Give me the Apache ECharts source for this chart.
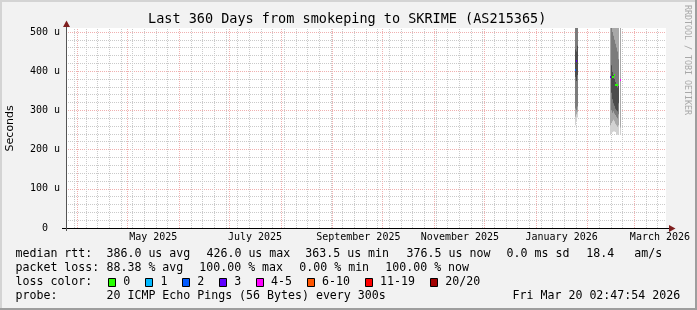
<!DOCTYPE html>
<html><head><meta charset="utf-8">
<script src="https://cdn.jsdelivr.net/npm/echarts@6/dist/echarts.min.js"></script>
<style>html,body{margin:0;padding:0;background:#f2f2f2}#c{width:697px;height:310px}</style>
</head><body><div id="c"></div><script>
// ---------------- data ----------------
const endTime = '2026-03-20T02:47:54Z';
const spanDays = 360;
const titleText = 'Last 360 Days from smokeping to SKRIME (AS215365)';
const yAxisName = 'Seconds';
const xLabels = ['May 2025', 'July 2025', 'September 2025', 'November 2025', 'January 2026', 'March 2026'];
const xLabelTimes = ['2025-05-16T12:00:00Z', '2025-07-16T12:00:00Z', '2025-09-16T12:00:00Z', '2025-11-16T12:00:00Z', '2026-01-16T12:00:00Z', '2026-03-16T12:00:00Z'];

// smoke (ping distribution per consolidated column), values in microseconds
const smokeTimes = ['2026-01-24T20:00:00Z', '2026-01-25T10:00:00Z', '2026-01-26T00:00:00Z',
  '2026-02-14T20:00:00Z', '2026-02-15T10:00:00Z', '2026-02-16T00:00:00Z', '2026-02-16T15:00:00Z',
  '2026-02-17T05:00:00Z', '2026-02-17T20:00:00Z', '2026-02-18T10:00:00Z', '2026-02-19T00:00:00Z',
  '2026-02-19T15:00:00Z', '2026-02-20T20:00:00Z'];
const smokeMin = [262, 270, 282, 240, 242, 244, 246, 246, 245, 240, 238, 240, 240];
const smokeP10 = [284, 290, 296, 262, 268, 272, 276, 272, 266, 262, 258, 262, 256];
const smokeP25 = [305, 300, 310, 380, 300, 294, 298, 292, 288, 284, 280, 290, 376];
const smokeP40 = [385, 375, 390, 380, 345, 328, 318, 312, 304, 300, 298, 318, 376];
const smokeP60 = [455, 450, 465, 380, 415, 398, 390, 380, 372, 364, 358, 362, 376];
const smokeP75 = [600, 600, 620, 380, 520, 500, 490, 480, 470, 460, 450, 430, 376];
const smokeP90 = [700, 700, 720, 600, 640, 620, 600, 590, 580, 570, 560, 540, 600];
const smokeMax = [900, 900, 900, 900, 900, 900, 900, 900, 900, 900, 900, 900, 900];

// median rtt points (microseconds) and loss class index
const medianTimes = ['2026-01-24T20:00:00Z', '2026-01-25T10:00:00Z', '2026-02-14T20:00:00Z',
  '2026-02-16T00:00:00Z', '2026-02-16T15:00:00Z', '2026-02-17T05:00:00Z', '2026-02-17T20:00:00Z',
  '2026-02-18T10:00:00Z', '2026-02-19T00:00:00Z', '2026-02-20T20:00:00Z'];
const medianValues = [404, 426, 386, 384, 386, 389, 364, 363.5, 364, 376.5];
const medianLoss = [2, 3, 3, 0, 0, 0, 0, 0, 0, 4];

const lossLabels = ['0', '1', '2', '3', '4-5', '6-10', '11-19', '20/20'];

const legendLines = [
  ['median rtt:', '386.0 us avg', '426.0 us max', '363.5 us min', '376.5 us now', '0.0 ms sd', '18.4', 'am/s'],
  ['packet loss:', '88.38 % avg', '100.00 % max', '0.00 % min', '100.00 % now'],
  ['loss color:'],
  ['probe:', '20 ICMP Echo Pings (56 Bytes) every 300s', 'Fri Mar 20 02:47:54 2026']
];
const watermark = 'RRDTOOL / TOBI OETIKER';

// ---------------- styles / layout ----------------
const lossColors = ['#26ff00', '#00b8ff', '#0059ff', '#5e00ff', '#ff00ff', '#ff5500', '#ff0000', '#a10000'];
const MONO = '"DejaVu Sans Mono", monospace';
const DAY = 86400000;
const endMs = Date.parse(endTime);
const startMs = endMs - spanDays * DAY;
const COL_MS = spanDays * DAY / 600;

const G = {left: 66, top: 28, width: 600, height: 200};

// grid lines (weekly minor, monthly major)
const weekLines = [];
for (let t = Date.parse('2025-03-30T00:00:00Z'); t < endMs; t += 7 * DAY) weekLines.push(t);
const monthLines = [];
for (let m = 0; m < 12; m++) monthLines.push(Date.UTC(2025, 3 + m, 1));

const smokeData = smokeTimes.map((t, i) => [Date.parse(t), smokeMin[i], smokeP10[i], smokeP25[i], smokeP40[i], smokeP60[i], smokeP75[i], smokeP90[i], smokeMax[i]]);
const medianData = medianTimes.map((t, i) => [Date.parse(t), medianValues[i], medianLoss[i]]);
const labelMs = xLabelTimes.map(t => Date.parse(t));

const bandDefs = [[1, 8, '#d2d2d2'], [2, 7, '#a8a8a8'], [3, 6, '#7c7c7c'], [4, 5, '#4c4c4c']];

function renderSmoke(params, api) {
  const cs = params.coordSys;
  const t = api.value(0);
  const w = api.size([COL_MS, 0])[0];
  const x = Math.round(api.coord([t, 0])[0] - w / 2);
  const children = [];
  for (const [lo, hi, color] of bandDefs) {
    const yLo = api.coord([t, api.value(lo)])[1];
    const yHi = api.coord([t, api.value(hi)])[1];
    const top = Math.max(Math.min(yLo, yHi), cs.y);
    const bot = Math.min(Math.max(yLo, yHi), cs.y + cs.height);
    if (bot - top > 0) children.push({type: 'rect', shape: {x: x, y: top, width: Math.max(1, Math.round(w)), height: bot - top}, style: {fill: color}});
  }
  return {type: 'group', children};
}
function renderMedian(params, api) {
  const t = api.value(0);
  const w = api.size([COL_MS, 0])[0];
  const p = api.coord([t, api.value(1)]);
  const x = Math.round(p[0] - w / 2);
  return {type: 'rect', shape: {x: x, y: Math.round(p[1]) - 1, width: Math.max(1, Math.round(w)), height: 2},
    style: {fill: lossColors[api.value(2)]}};
}

// ---------------- decorations ----------------
const graphics = [];
// frame
graphics.push({type: 'rect', shape: {x: 0, y: 0, width: 697, height: 2}, style: {fill: '#d4d4d4'}, silent: true});
graphics.push({type: 'rect', shape: {x: 0, y: 0, width: 2, height: 310}, style: {fill: '#d4d4d4'}, silent: true});
graphics.push({type: 'rect', shape: {x: 695, y: 0, width: 2, height: 310}, style: {fill: '#9e9e9e'}, silent: true});
graphics.push({type: 'rect', shape: {x: 0, y: 308, width: 697, height: 2}, style: {fill: '#9e9e9e'}, silent: true});
// title
graphics.push({type: 'text', silent: true, style: {text: titleText, x: 347.2, y: 19.8, align: 'center', verticalAlign: 'middle', font: '13.5px ' + MONO, fill: '#000'}});
// y axis name
graphics.push({type: 'text', silent: true, x: 10.5, y: 128.3, rotation: Math.PI / 2, style: {text: yAxisName, x: 0, y: 0, align: 'center', verticalAlign: 'middle', font: '11px "DejaVu Sans", sans-serif', fill: '#000'}});
// watermark
graphics.push({type: 'text', silent: true, x: 687.5, y: 60, rotation: -Math.PI / 2, style: {text: watermark, x: 0, y: 0, align: 'center', verticalAlign: 'middle', font: '8.3px ' + MONO, fill: '#a8a8a8'}});
// axes with arrows
graphics.push({type: 'line', silent: true, z: 100, shape: {x1: 62, y1: 228.5, x2: 670, y2: 228.5}, style: {stroke: '#000', lineWidth: 1}});
graphics.push({type: 'polygon', silent: true, z: 100, shape: {points: [[669, 225], [675.5, 228.5], [669, 232]]}, style: {fill: '#7f1f1f'}});
graphics.push({type: 'line', silent: true, z: 100, shape: {x1: 66.5, y1: 231, x2: 66.5, y2: 25}, style: {stroke: '#555', lineWidth: 1}});
graphics.push({type: 'polygon', silent: true, z: 100, shape: {points: [[63, 27], [66.5, 20.5], [70, 27]]}, style: {fill: '#7f1f1f'}});
// legend text
const legendY = [254.2, 268, 282, 296];
const legendX = [
  [15.5, 106.5, 206.5, 305.3, 406.6, 492.6, 579.3, 634.3],
  [15.5, 106.5, 199.3, 299.3, 385.3],
  [15.5],
  [15.5, 106.5, 512.6]
];
const legendText = [
  legendLines[0].map((s, i) => i === 5 ? '  ' + s : (i === 6 ? ' ' + s : s)),
  legendLines[1], legendLines[2], legendLines[3]
];
legendText.forEach((line, li) => line.forEach((s, k) => {
  graphics.push({type: 'text', silent: true, style: {text: s, x: legendX[li][k], y: legendY[li], align: 'left', verticalAlign: 'middle', font: '11.6px ' + MONO, fill: '#000'}});
}));
const boxX = [108.5, 145.5, 182.5, 219.5, 256.5, 307.5, 365.5, 430.5];
const boxLabelX = [123.3, 160.6, 197.3, 234.3, 271, 322, 380, 445.3];
lossLabels.forEach((lab, i) => {
  graphics.push({type: 'rect', silent: true, shape: {x: boxX[i], y: 278.5, width: 7, height: 8}, style: {fill: lossColors[i], stroke: '#000', lineWidth: 1}});
  graphics.push({type: 'text', silent: true, style: {text: lab, x: boxLabelX[i], y: 282, align: 'left', verticalAlign: 'middle', font: '11.6px ' + MONO, fill: '#000'}});
});

// ---------------- chart ----------------
const chart = echarts.init(document.getElementById('c'), null, {renderer: 'canvas'});
chart.setOption({
  animation: false,
  backgroundColor: '#f2f2f2',
  grid: Object.assign({show: true, backgroundColor: '#fff', borderWidth: 0, containLabel: false, outerBoundsMode: 'none'}, G),
  xAxis: {
    type: 'value', min: startMs, max: endMs,
    axisLine: {show: false}, axisTick: {show: false}, splitLine: {show: false},
    axisLabel: {
      customValues: labelMs, margin: 9, verticalAlign: 'middle',
      fontSize: 10, fontFamily: MONO, color: '#000',
      formatter: v => { const i = labelMs.indexOf(v); return i >= 0 ? xLabels[i] : ''; }
    }
  },
  yAxis: [{
    type: 'value', min: 0, max: 510, interval: 20,
    axisLine: {show: false}, axisTick: {show: false}, axisLabel: {show: false},
    splitLine: {show: true, showMaxLine: false, lineStyle: {color: '#cacaca', type: [1, 1], width: 1}}
  }, {
    type: 'value', min: 0, max: 510, interval: 100, position: 'left',
    axisLine: {show: false}, axisTick: {show: false},
    axisLabel: {margin: 6, fontSize: 10, fontFamily: MONO, color: '#000', showMaxLabel: false,
      formatter: v => (v % 100 !== 0) ? '' : (v === 0 ? '  0  ' : v + ' u')},
    splitLine: {show: true, showMaxLine: false, showMinLine: false, lineStyle: {color: '#f0b0b0', type: [1, 1], width: 1}}
  }],
  series: [{
    type: 'line', data: [], silent: true, z: 1,
    markLine: {silent: true, symbol: ['none', 'none'], label: {show: false}, animation: false,
      emphasis: {disabled: true},
      lineStyle: {color: '#cacaca', type: [1, 1], width: 1},
      data: weekLines.map(t => ({xAxis: t}))}
  }, {
    type: 'line', data: [], silent: true, z: 2,
    markLine: {silent: true, symbol: ['none', 'none'], label: {show: false}, animation: false,
      emphasis: {disabled: true},
      lineStyle: {color: '#f0b0b0', type: [1, 1], width: 1},
      data: monthLines.map(t => ({xAxis: t}))}
  }, {
    type: 'custom', name: 'smoke', data: smokeData, renderItem: renderSmoke, silent: true, z: 5,
    encode: {x: 0, y: [1, 8]}, clip: true
  }, {
    type: 'custom', name: 'median', data: medianData, renderItem: renderMedian, silent: true, z: 6,
    encode: {x: 0, y: 1}, clip: true
  }],
  graphic: graphics
});
</script></body></html>
